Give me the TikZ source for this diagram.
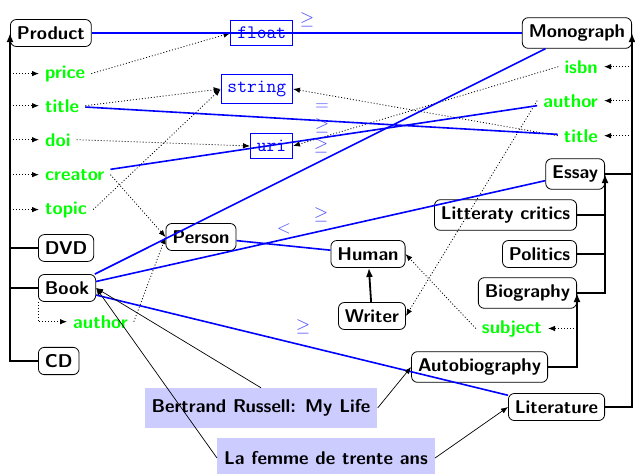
\RequirePackage{fix-cm}
\documentclass[tikz,border=0pt]{standalone}
\usepackage{fontspec}
\usetikzlibrary{arrows.meta}
\begin{document}
\begin{tikzpicture}[x=1pt,y=-1pt,
  txt/.style={font=\fontsize{18.5}{22}\selectfont\sffamily\bfseries},
  cls/.style={txt, draw=black, line width=0.8pt, rounded corners=6pt, fill=white, inner xsep=6.5pt, inner ysep=7pt},
  attr/.style={txt, text=green, inner sep=6pt},
  dtype/.style={font=\fontsize{19}{22}\selectfont\ttfamily, draw=blue, text=blue, line width=0.6pt, inner sep=6.5pt},
  inst/.style={txt, fill=blue!20, inner xsep=7pt, minimum height=40pt},
  rel/.style={font=\fontsize{18.5}{22}\selectfont, text=blue!70, inner sep=0pt},
  isa/.style={line width=1.8pt, -{Latex[length=9pt,width=7pt]}},
  isaline/.style={line width=1.8pt},
  prop/.style={line width=0.8pt, dash pattern=on 1pt off 2pt, -{Latex[length=7pt,width=5.5pt]}},
  map/.style={blue, line width=1.6pt},
  instof/.style={line width=0.7pt, -{Latex[length=7pt,width=5.5pt]}}
]
\useasboundingbox (0,0) rectangle (635,474);

% classes of the first ontology
\node[cls, anchor=west] (product) at (10,33) {Product};
\node[cls, anchor=west] (dvd) at (38,248) {DVD};
\node[cls, anchor=west] (book) at (38,288) {Book};
\node[cls, anchor=west] (cd) at (38,361) {CD};
\node[cls] (person) at (201,237) {Person};

% data types
\node[dtype, anchor=east] (float) at (293,33) {float};
\node[dtype, anchor=east] (string) at (293,89) {string};
\node[dtype, anchor=east] (uri) at (293,146) {uri};

% properties of Product and Book
\node[attr, anchor=base west] (price) at (39,78) {price};
\node[attr, anchor=base west] (title) at (39,112) {title};
\node[attr, anchor=base west] (doi) at (39,146) {doi};
\node[attr, anchor=base west] (creator) at (39,180) {creator};
\node[attr, anchor=base west] (topic) at (39,214) {topic};
\node[attr, anchor=base west] (bauthor) at (67,328) {author};

% classes of the second ontology
\node[cls, anchor=east] (monograph) at (632,33) {Monograph};
\node[cls] (human) at (368,254) {Human};
\node[cls] (writer) at (372,316) {Writer};
\node[cls, anchor=east] (essay) at (605,174) {Essay};
\node[cls, anchor=east] (litt) at (577,215) {Litteraty critics};
\node[cls, anchor=east] (politics) at (577,254) {Politics};
\node[cls, anchor=east] (biography) at (577,293) {Biography};
\node[cls, anchor=east] (autobio) at (548,367) {Autobiography};
\node[cls, anchor=east] (literature) at (605,407) {Literature};

% properties of Monograph and Biography
\node[attr, anchor=base east] (isbn) at (604,73) {isbn};
\node[attr, anchor=base east] (author2) at (604,107) {author};
\node[attr, anchor=base east] (title2) at (604,142) {title};
\node[attr, anchor=base east] (subject) at (548,333) {subject};

% instances
\node[inst] (bertrand) at (261,408) {Bertrand Russell: My Life};
\node[inst] (femme) at (326,458) {La femme de trente ans};

% relation labels
\node[rel] (r1) at (307,20) {$\geq$};
\node[rel] (r2) at (322,107) {$=$};
\node[rel] (r3) at (322,126) {$\geq$};
\node[rel] (r4) at (321,146) {$\geq$};
\node[rel] (r5) at (284,229) {$<$};
\node[rel] (r6) at (321,215) {$\geq$};
\node[rel] (r7) at (303,327) {$\geq$};

% subclass hierarchy
\draw[isa] (cd.west) -| (product.west);
\draw[isaline] (dvd.west) -- (dvd.west -| product.west);
\draw[isaline] (book.west) -- (book.west -| product.west);
\draw[isa] (literature.east) -| (monograph.east);
\draw[isaline] (essay.east) -- (essay.east -| monograph.east);
\draw[isa] (biography.east) -| (essay.east);
\draw[isaline] (litt.east) -- (litt.east -| essay.east);
\draw[isaline] (politics.east) -- (politics.east -| essay.east);
\draw[isa] (autobio.east) -| (biography.east);
\draw[isa] (writer) -- (human);

% domains of the properties
\foreach \a in {price,title,doi,creator,topic}
  \draw[prop] (product.west |- \a.west) -- (\a.west);
\foreach \a in {isbn,author2,title2}
  \draw[prop] (monograph.east |- \a.east) -- (\a.east);
\draw[prop] (book.south west) |- (bauthor.west);
\draw[prop] (biography.east |- subject.east) -- (subject.east);

% ranges of the properties
\draw[prop] (price.east) -- (float.west);
\draw[prop] (title.east) -- (string.west);
\draw[prop] (doi.east) -- (uri.west);
\draw[prop] (creator.east) -- (person.west);
\draw[prop] (topic.east) -- (string.west);
\draw[prop] (bauthor.east) -- (person.west);
\draw[prop] (isbn.west) -- (uri.east);
\draw[prop] (title2.west) -- (string.east);
\draw[prop] (author2.west) -- (writer.east);
\draw[prop] (subject.west) -- (human.east);

% alignment correspondences
\draw[map] (product) -- (monograph);
\draw[map] (title) -- (title2);
\draw[map] (creator) -- (author2);
\draw[map] (book) -- (monograph);
\draw[map] (book) -- (essay);
\draw[map] (book) -- (literature);
\draw[map] (person) -- (human);

% instance membership
\draw[instof] (bertrand.north) -- (book.east);
\draw[instof] (bertrand.east) -- (autobio.west);
\draw[instof] (femme.west) -- (book.east);
\draw[instof] (femme.east) -- (literature.west);
\end{tikzpicture}
\end{document}
